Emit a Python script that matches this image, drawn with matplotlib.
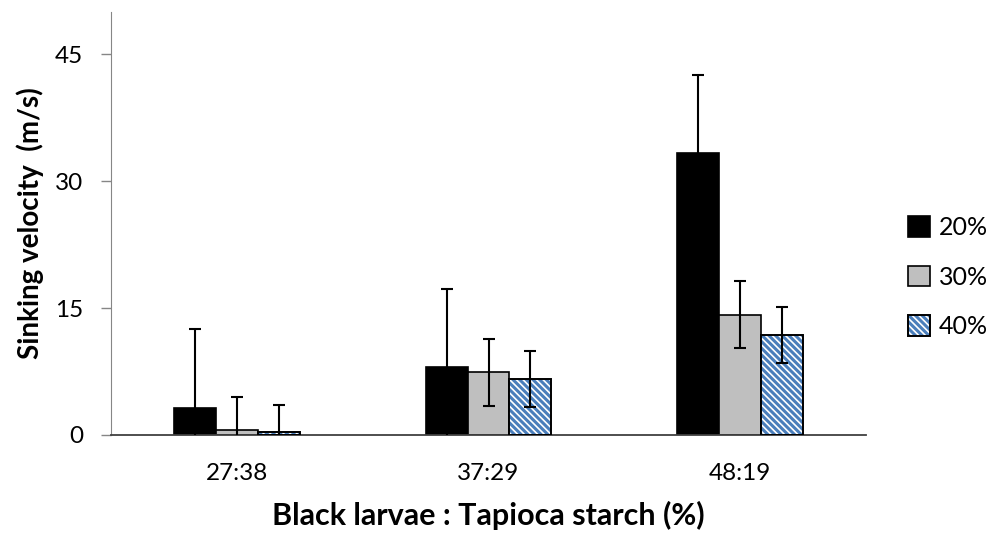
import numpy as np
import matplotlib.pyplot as plt
from matplotlib.patches import Patch
from matplotlib.legend_handler import HandlerTuple

plt.rcParams['font.family'] = ['Lato', 'DejaVu Sans']
plt.rcParams['hatch.linewidth'] = 2.2

ratios = ['27:38', '37:29', '48:19']
series = ['20%', '30%', '40%']
v20 = [3.2, 8.0, 33.3]
v30 = [0.6, 7.4, 14.2]
v40 = [0.3, 6.6, 11.8]
e20 = [9.3, 9.2, 9.3]
e30 = [3.9, 3.95, 3.95]
e40 = [3.3, 3.3, 3.3]

blue = '#4a7ebb'
hatch = '\\' * 5

fig = plt.figure(figsize=(9.94, 5.33), dpi=100)
ax = fig.add_axes([0.1117, 0.1839, 0.7595, 0.7936])

x = np.arange(len(ratios))
w = 1 / 6

# 20% black
ax.bar(x - w, v20, w, color='black', edgecolor='black', linewidth=1.2, zorder=2)
# 30% gray
ax.bar(x, v30, w, color='#bfbfbf', edgecolor='black', linewidth=1.2, zorder=2)
# 40% hatched: blue hatch layer, then black outline
ax.bar(x + w, v40, w, color='white', edgecolor=blue, hatch=hatch,
       linewidth=0, zorder=2)
ax.bar(x + w, v40, w, fill=False, edgecolor='black', linewidth=1.4, zorder=3)

for off, vals, errs in [(-w, v20, e20), (0, v30, e30), (w, v40, e40)]:
    ax.errorbar(x + off, vals, yerr=errs, fmt='none', ecolor='black',
                elinewidth=1.5, capsize=4.5, capthick=1.5, zorder=4)

ax.set_xlim(-0.5, 2.5)
ax.set_ylim(0, 50)
ax.set_yticks([0, 15, 30, 45])
ax.set_xticks(x)
ax.set_xticklabels(ratios)
ax.tick_params(axis='x', length=0, pad=20, labelsize=17.5)
ax.tick_params(axis='y', length=7, width=1, color='#868686', pad=13, labelsize=17.5)

ax.spines['top'].set_visible(False)
ax.spines['right'].set_visible(False)
ax.spines['left'].set_color('#868686')
ax.spines['bottom'].set_color('#404040')
ax.spines['bottom'].set_linewidth(1.3)

ax.set_ylabel('Sinking velocity  (m/s)', fontsize=20, fontweight='bold', labelpad=8)
ax.set_xlabel('Black larvae : Tapioca starch (%)', fontsize=22, fontweight='bold', labelpad=12)

h20 = Patch(facecolor='black', edgecolor='black', linewidth=1.2)
h30 = Patch(facecolor='#bfbfbf', edgecolor='black', linewidth=1.2)
h40 = (Patch(facecolor='white', edgecolor=blue, hatch=hatch, linewidth=0),
       Patch(fill=False, edgecolor='black', linewidth=1.4))
fig.legend([h20, h30, h40], series, loc='center left', bbox_to_anchor=(0.913, 0.48),
           frameon=False, fontsize=18, handlelength=0.9, handleheight=0.9,
           handletextpad=0.35, labelspacing=1.05, borderpad=0, borderaxespad=0,
           handler_map={tuple: HandlerTuple(ndivide=1, pad=0)})

fig.savefig('out.png', dpi=100)
